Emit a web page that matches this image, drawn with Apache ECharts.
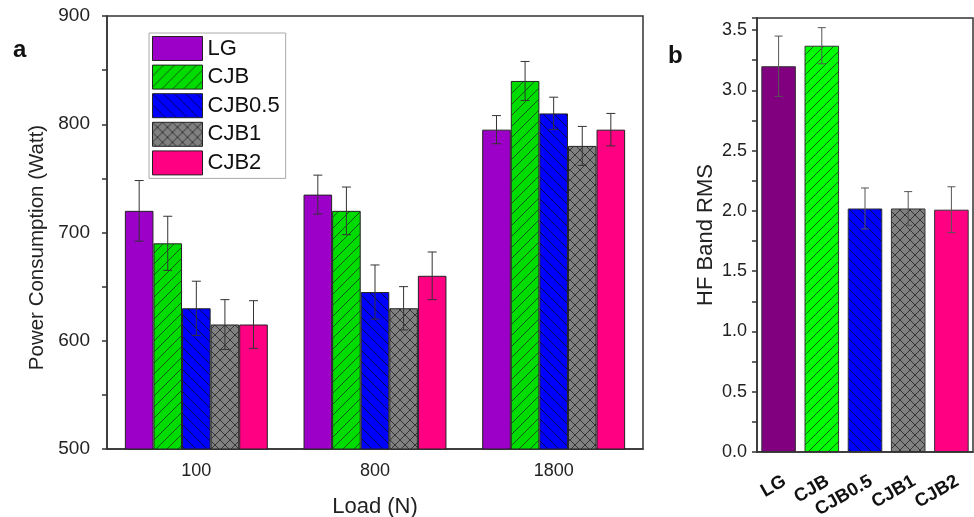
<!DOCTYPE html>
<html>
<head>
<meta charset="utf-8">
<script src="https://cdn.jsdelivr.net/npm/echarts@6/dist/echarts.min.js"></script>
<style>
html,body{margin:0;padding:0;background:#fff;}
#chart{width:974px;height:517px;}
</style>
</head>
<body>
<div id="chart"></div>
<script>
// ---- data ----
var loads = ['100', '800', '1800'];
var seriesNames = ['LG', 'CJB', 'CJB0.5', 'CJB1', 'CJB2'];
var powerLG    = [720, 735, 795];
var powerCJB   = [690, 720, 840];
var powerCJB05 = [630, 645, 810];
var powerCJB1  = [615, 630, 780];
var powerCJB2  = [615, 660, 795];
var errLG      = [28, 18, 13];
var errCJB     = [25, 22, 18];
var errCJB05   = [25, 25, 15];
var errCJB1    = [23, 20, 18];
var errCJB2    = [22, 22, 15];
var rmsCategories = ['LG', 'CJB', 'CJB0.5', 'CJB1', 'CJB2'];
var rmsValues = [3.20, 3.37, 2.02, 2.02, 2.01];
var rmsErrors = [0.25, 0.15, 0.17, 0.14, 0.19];

// ---- styles ----
function hatch(bg, kind, size, lineColor, lw) {
  var c = document.createElement('canvas');
  c.width = size; c.height = size;
  var g = c.getContext('2d');
  g.fillStyle = bg; g.fillRect(0, 0, size, size);
  g.strokeStyle = lineColor; g.lineWidth = lw;
  g.beginPath();
  if (kind.indexOf('/') >= 0) {
    g.moveTo(0, size); g.lineTo(size, 0);
    g.moveTo(-2, 2); g.lineTo(2, -2);
    g.moveTo(size - 2, size + 2); g.lineTo(size + 2, size - 2);
  }
  if (kind.indexOf('\\') >= 0) {
    g.moveTo(0, 0); g.lineTo(size, size);
    g.moveTo(-2, size - 2); g.lineTo(2, size + 2);
    g.moveTo(size - 2, -2); g.lineTo(size + 2, 2);
  }
  g.stroke();
  return { image: c, repeat: 'repeat' };
}
var colorsA = [
  '#9c00c8',
  hatch('#00dc00', '/', 11, '#1a3a1a', 0.8),
  hatch('#0000ff', '\\', 11, '#000033', 0.8),
  hatch('#808080', '/\\', 10, '#222', 0.8),
  '#ff0083'
];
var colorsB = [
  '#800080',
  hatch('#00ff00', '/', 10, '#1a3a1a', 0.8),
  hatch('#0000ff', '\\', 10, '#000033', 0.8),
  hatch('#808080', '/\\', 10, '#222', 0.8),
  '#ff0083'
];
var FONT = 'Liberation Sans, Arial, sans-serif';
var AXC = '#333';

var powerData = [powerLG, powerCJB, powerCJB05, powerCJB1, powerCJB2];
var errData = [errLG, errCJB, errCJB05, errCJB1, errCJB2];

var series = [];
seriesNames.forEach(function (name, i) {
  series.push({
    name: name, type: 'bar', xAxisIndex: 0, yAxisIndex: 0,
    data: powerData[i], barGap: '0%', barCategoryGap: '20%',
    itemStyle: { color: colorsA[i], borderColor: '#222', borderWidth: 1 },
    z: 2
  });
});
seriesNames.forEach(function (name, i) {
  var d = powerData[i].map(function (v, k) { return [k, v - errData[i][k], v + errData[i][k]]; });
  series.push({
    type: 'custom', xAxisIndex: 0, yAxisIndex: 0, z: 5, silent: true,
    data: d,
    renderItem: function (params, api) {
      var cat = api.value(0), lo = api.value(1), hi = api.value(2);
      var band = api.size([1, 0])[0];
      var x = api.coord([cat, lo])[0] + (i - 2) * band * 0.16;
      var yl = api.coord([cat, lo])[1], yh = api.coord([cat, hi])[1];
      var st = { stroke: '#333', lineWidth: 1 };
      var cw = 4.5;
      return { type: 'group', children: [
        { type: 'line', shape: { x1: x, y1: yl, x2: x, y2: yh }, style: st },
        { type: 'line', shape: { x1: x - cw, y1: yh, x2: x + cw, y2: yh }, style: st },
        { type: 'line', shape: { x1: x - cw, y1: yl, x2: x + cw, y2: yl }, style: st }
      ] };
    }
  });
});
series.push({
  name: 'HF', type: 'bar', xAxisIndex: 1, yAxisIndex: 1, barCategoryGap: '20%',
  data: rmsValues.map(function (v, k) {
    return { value: v, itemStyle: { color: colorsB[k] } };
  }),
  itemStyle: { borderColor: '#333', borderWidth: 1 }
});
series.push({
  type: 'custom', xAxisIndex: 1, yAxisIndex: 1, z: 5, silent: true,
  data: rmsValues.map(function (v, k) { return [k, v - rmsErrors[k], v + rmsErrors[k]]; }),
  renderItem: function (params, api) {
    var cat = api.value(0), lo = api.value(1), hi = api.value(2);
    var p1 = api.coord([cat, lo]), p2 = api.coord([cat, hi]);
    var st = { stroke: '#555', lineWidth: 1 };
    var cw = 4;
    return { type: 'group', children: [
      { type: 'line', shape: { x1: p1[0], y1: p1[1], x2: p1[0], y2: p2[1] }, style: st },
      { type: 'line', shape: { x1: p1[0] - cw, y1: p2[1], x2: p1[0] + cw, y2: p2[1] }, style: st },
      { type: 'line', shape: { x1: p1[0] - cw, y1: p1[1], x2: p1[0] + cw, y2: p1[1] }, style: st }
    ] };
  }
});
// rotated category labels of panel b, placed at the axis ticks
series.push({
  type: 'custom', xAxisIndex: 1, yAxisIndex: 1, z: 5, silent: true, clip: false,
  data: rmsCategories.map(function (c, k) { return [k, 0]; }),
  renderItem: function (params, api) {
    var p = api.coord([api.value(0), 0]);
    return {
      type: 'text', x: p[0] + 6, y: p[1] + 28, rotation: Math.PI / 6,
      style: { text: rmsCategories[params.dataIndex], align: 'right', verticalAlign: 'middle',
        font: 'bold 18.5px ' + FONT, fill: '#111' }
    };
  }
});

var chart = echarts.init(document.getElementById('chart'), null, { renderer: 'canvas' });
chart.setOption({
  backgroundColor: '#fff',
  animation: false,
  textStyle: { fontFamily: FONT },
  grid: [
    { left: 107, right: 331, top: 16, bottom: 68, show: true, borderColor: AXC, borderWidth: 1.5, backgroundColor: 'transparent', containLabel: false, outerBoundsMode: 'none' },
    { left: 757, right: 1, top: 18, bottom: 65, show: true, borderColor: AXC, borderWidth: 1.5, backgroundColor: 'transparent', containLabel: false, outerBoundsMode: 'none' }
  ],
  legend: {
    data: seriesNames, orient: 'vertical', left: 149, top: 33,
    icon: 'rect',
    itemWidth: 50, itemHeight: 24, itemGap: 3.6,
    padding: [3, 6, 3, 3], borderColor: '#aaa', borderWidth: 1, backgroundColor: '#fff',
    textStyle: { fontSize: 22, color: '#111', fontFamily: FONT },
    itemStyle: { borderColor: '#222', borderWidth: 1 }
  },
  xAxis: [
    {
      type: 'category', gridIndex: 0, data: loads,
      name: 'Load (N)', nameLocation: 'middle', nameGap: 47,
      nameTextStyle: { fontSize: 22, color: '#222', fontFamily: FONT },
      axisLine: { lineStyle: { color: AXC, width: 1.5 } },
      axisTick: { alignWithLabel: true, length: 8, lineStyle: { color: AXC, width: 1.5 } },
      axisLabel: { fontSize: 18, color: '#222', margin: 13, fontFamily: FONT }
    },
    {
      type: 'category', gridIndex: 1, data: rmsCategories,
      axisLine: { lineStyle: { color: AXC, width: 1.5 } },
      axisTick: { alignWithLabel: true, length: 8, lineStyle: { color: AXC, width: 1.5 } },
      axisLabel: { show: false }
    }
  ],
  yAxis: [
    {
      type: 'value', gridIndex: 0, min: 500, max: 900, interval: 100,
      name: 'Power Consumption (Watt)', nameLocation: 'middle', nameGap: 45,
      nameTextStyle: { fontSize: 20.5, color: '#222', fontFamily: FONT, padding: [0, 30, 0, 0] },
      axisLine: { show: true, lineStyle: { color: AXC, width: 1.5 } },
      axisTick: { show: true, length: 5, lineStyle: { color: AXC, width: 1.5 } },
      minorTick: { show: true, splitNumber: 2, length: 5, lineStyle: { color: AXC, width: 1.5 } },
      minorSplitLine: { show: false },
      splitLine: { show: false },
      axisLabel: { fontSize: 19, color: '#222', margin: 17, fontFamily: FONT }
    },
    {
      type: 'value', gridIndex: 1, min: 0, max: 3.6, interval: 0.5,
      name: 'HF Band RMS', nameLocation: 'middle', nameGap: 40,
      nameTextStyle: { fontSize: 22, color: '#222', fontFamily: FONT },
      axisLine: { show: true, lineStyle: { color: AXC, width: 1.5 } },
      axisTick: { show: true, length: 5, lineStyle: { color: AXC, width: 1.5 } },
      minorTick: { show: true, splitNumber: 2, length: 5, lineStyle: { color: AXC, width: 1.5 } },
      splitLine: { show: false },
      axisLabel: { fontSize: 18, color: '#222', margin: 10, showMaxLabel: false, fontFamily: FONT,
        formatter: function (v) { return v.toFixed(1); } }
    }
  ],
  graphic: [
    { type: 'text', left: 13, top: 38, style: { text: 'a', font: 'bold 24px ' + FONT, fill: '#111' } },
    { type: 'text', left: 668, top: 44, style: { text: 'b', font: 'bold 24px ' + FONT, fill: '#111' } }
  ],
  series: series
});
</script>
</body>
</html>
